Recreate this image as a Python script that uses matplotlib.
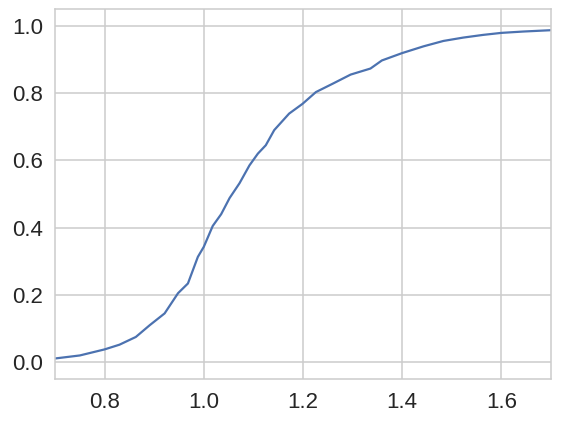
import matplotlib
matplotlib.use("Agg")
import matplotlib.pyplot as plt
import seaborn as sns

# points
x_vals = [0.70, 0.75, 0.80, 0.83, 0.863, 0.891, 0.921, 0.948, 0.968, 0.988,
          1.0, 1.018, 1.035, 1.052, 1.072, 1.092, 1.109, 1.125, 1.142, 1.172,
          1.199, 1.226, 1.26, 1.296, 1.336, 1.359, 1.40, 1.443, 1.483, 1.523,
          1.563, 1.60, 1.644, 1.70]
y_vals = [0.011, 0.02, 0.038, 0.052, 0.075, 0.11, 0.145, 0.205, 0.234, 0.313,
          0.343, 0.405, 0.44, 0.488, 0.532, 0.585, 0.62, 0.645, 0.69, 0.739,
          0.768, 0.803, 0.828, 0.855, 0.873, 0.897, 0.919, 0.939, 0.955, 0.965,
          0.973, 0.979, 0.983, 0.987]

sns.set_theme(style="whitegrid")
plt.rcParams['font.family'] = ['Liberation Sans', 'DejaVu Sans']

fig = plt.figure(figsize=(5.61, 4.22), dpi=100)
ax = fig.add_axes([55 / 561, 1 - 379 / 422, 496 / 561, 370 / 422])

ax.plot(x_vals, y_vals, color="#4c72b0", linewidth=1.6)

ax.set_xlim(0.7, 1.7)
ax.set_ylim(-0.05, 1.05)
ax.set_xticks([0.8, 1.0, 1.2, 1.4, 1.6])
ax.set_yticks([0.0, 0.2, 0.4, 0.6, 0.8, 1.0])
ax.tick_params(labelsize=16, colors="#262626", length=0)
ax.tick_params(axis="x", pad=9)
ax.tick_params(axis="y", pad=8.5)
ax.grid(color="#cccccc", linewidth=1.1)
for s in ax.spines.values():
    s.set_color("#cccccc")
    s.set_linewidth(1.1)

fig.savefig("out.png", dpi=100)
